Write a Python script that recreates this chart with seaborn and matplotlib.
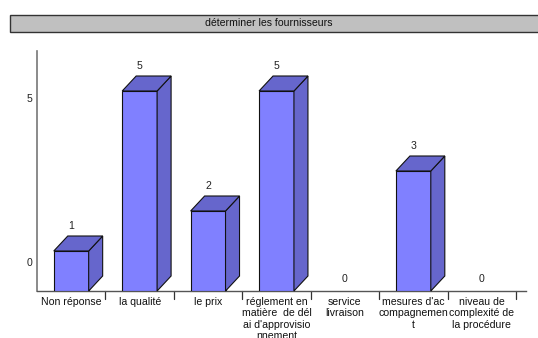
import matplotlib
matplotlib.use("Agg")
import matplotlib.pyplot as plt
import matplotlib.transforms as mtransforms
from matplotlib.patches import Polygon, Rectangle
from matplotlib.lines import Line2D
import seaborn as sns
import pandas as pd

sns.set_style("white")
plt.rcParams["font.family"] = ["Liberation Sans", "DejaVu Sans"]

title = "déterminer les fournisseurs"
categories = [
    "Non réponse",
    "la qualité",
    "le prix",
    "réglement en\nmatière  de dél\nai d'approvisio\nnnement",
    "service\nlivraison",
    "mesures d'ac\ncompagnemen\nt",
    "niveau de\ncomplexité de\nla procédure",
]
values = [1, 5, 2, 5, 0, 3, 0]
ytick_values = [0, 5]

front = "#8080FF"
shade = "#6666CC"

W, H, DPI = 538, 338, 100
fig = plt.figure(figsize=(W / DPI, H / DPI), dpi=DPI)

x0, x1 = 37, 516
y_base, y_top = 291, 51
ax = fig.add_axes([x0 / W, (H - y_base) / H, (x1 - x0) / W, (y_base - y_top) / H])

df = pd.DataFrame({"cat": categories, "val": values})
sns.barplot(data=df, x="cat", y="val", ax=ax, color=front, saturation=1,
            width=0.51, edgecolor="#111111", linewidth=0.8, zorder=3)

ax.set_xlim(-0.5, len(categories) - 0.5)
ax.set_ylim(0, 6)

# depth of the extruded bars, in data units
px_x = (x1 - x0) / len(categories)
px_y = (y_base - y_top) / 6
dx = 14 / px_x
dy = 15 / px_y

for p, v in zip(ax.patches, values):
    if v <= 0:
        p.set_visible(False)
        continue
    l = p.get_x()
    r = l + p.get_width()
    t = p.get_height()
    top = Polygon([(l, t), (r, t), (r + dx, t + dy), (l + dx, t + dy)],
                  closed=True, facecolor=shade, edgecolor="#111111",
                  linewidth=0.8, zorder=3, clip_on=False)
    side = Polygon([(r, 0), (r + dx, dy), (r + dx, t + dy), (r, t)],
                   closed=True, facecolor=shade, edgecolor="#111111",
                   linewidth=0.8, zorder=3, clip_on=False)
    ax.add_patch(side)
    ax.add_patch(top)

FS = 7.6

# value labels above each bar
for i, v in enumerate(values):
    off = 25 if v > 0 else 12
    ax.annotate(str(v), (i, v), xytext=(0, off * 0.72), textcoords="offset points",
                ha="center", va="center", fontsize=FS, color="#222222",
                annotation_clip=False)

# axes styling
for s in ["top", "right"]:
    ax.spines[s].set_visible(False)
ax.spines["left"].set_color("#777777")
ax.spines["left"].set_linewidth(1.2)
ax.spines["bottom"].set_color("#555555")
ax.spines["bottom"].set_linewidth(1.0)
ax.spines["bottom"].set_bounds(-0.5, len(categories) - 0.5 + dx * 0.7)

ax.set_xlabel("")
ax.set_ylabel("")
ax.set_yticks(ytick_values)
ax.set_yticklabels([str(v) for v in ytick_values], fontsize=FS, color="#222222")
ax.tick_params(axis="y", direction="in", length=2, width=1, color="#777777", pad=3)
shifts = {"0": 29, "5": -7}
for lab in ax.get_yticklabels():
    s = shifts.get(lab.get_text(), 0)
    lab.set_transform(lab.get_transform() +
                      mtransforms.ScaledTranslation(0, s * 0.72 / 72, fig.dpi_scale_trans))

# category labels centred in each slot, tick marks at the slot boundaries
ax.set_xticks(range(len(categories)))
ax.set_xticklabels(categories, fontsize=FS, color="#111111", linespacing=1.2, va="top")
ax.tick_params(axis="x", length=0, pad=4)
for b in range(1, len(categories) + 1):
    ax.add_line(Line2D([b - 0.5, b - 0.5], [0, -8 / px_y], color="#333333",
                       linewidth=0.9, clip_on=False))

# title banner running off the right edge
fig.patches.append(Rectangle((10 / W, (H - 32) / H), 1.2, 17 / H,
                             transform=fig.transFigure, facecolor="#C0C0C0",
                             edgecolor="#333333", linewidth=1.0))
fig.text(269 / W, (H - 23.5) / H, title, ha="center", va="center",
         fontsize=FS, color="#111111")

fig.savefig("out.png", dpi=DPI)
